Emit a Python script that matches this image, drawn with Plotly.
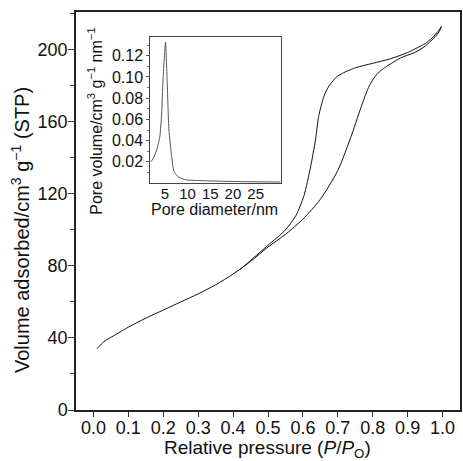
import plotly.graph_objects as go

# Main isotherm: adsorption branch (relative pressure, volume adsorbed)
ads_p = [0.01, 0.03, 0.056, 0.10, 0.15, 0.20, 0.25, 0.30, 0.35, 0.40, 0.45, 0.50,
         0.55, 0.60, 0.65, 0.70, 0.74, 0.77, 0.79, 0.81, 0.83, 0.88, 0.92, 0.95, 0.975, 0.99, 0.997]
ads_v = [34, 38, 41, 46, 51, 55.5, 60, 64.5, 69.5, 75.5, 82.5, 90.5,
         97.5, 106, 117, 133, 153, 170, 180, 186, 189.5, 195.5, 198.5, 202, 206.5, 210, 213]

# Desorption branch
des_p = [0.997, 0.99, 0.97, 0.95, 0.90, 0.85, 0.80, 0.75, 0.70, 0.675, 0.66, 0.645, 0.636,
         0.622, 0.603, 0.58, 0.55, 0.50, 0.45, 0.42]
des_v = [213, 211, 206.5, 203.5, 198.5, 195, 192.5, 190, 185.5, 180, 174, 163, 150,
         135, 119, 108, 100, 91.5, 83, 78]

# Inset: pore size distribution
psd_d = [1.9, 2.4, 3.2, 3.9, 4.3, 4.6, 5.15, 5.5, 5.9, 6.5, 7.0, 7.9, 9.7, 12, 15, 20, 25, 30.5]
psd_v = [0.020, 0.023, 0.031, 0.044, 0.066, 0.097, 0.133, 0.097, 0.050, 0.025, 0.011,
         0.006, 0.003, 0.0025, 0.002, 0.0015, 0.0012, 0.001]

main_xticks = [0.0, 0.1, 0.2, 0.3, 0.4, 0.5, 0.6, 0.7, 0.8, 0.9, 1.0]
main_yticks = [0, 40, 80, 120, 160, 200]
inset_xticks = [5, 10, 15, 20, 25]
inset_yticks = [0.02, 0.04, 0.06, 0.08, 0.10, 0.12]

FONT = "Liberation Sans, Arial, Helvetica, sans-serif"
W, H = 463, 461
L, R, T, B = 76, 462, 12, 410.5

def px(x):
    return (x - L) / (R - L)

def py(y):
    return (B - y) / (B - T)

fig = go.Figure()
fig.add_trace(go.Scatter(x=ads_p, y=ads_v, mode="lines", line=dict(color="#111", width=1, shape="spline", smoothing=0.7),
                         showlegend=False, hoverinfo="skip"))
fig.add_trace(go.Scatter(x=des_p, y=des_v, mode="lines", line=dict(color="#111", width=1, shape="spline", smoothing=0.7),
                         showlegend=False, hoverinfo="skip"))
fig.add_trace(go.Scatter(x=psd_d, y=psd_v, mode="lines", xaxis="x2", yaxis="y2",
                         line=dict(color="#555", width=1, shape="spline", smoothing=0.5),
                         showlegend=False, hoverinfo="skip"))

fig.update_layout(
    width=W, height=H,
    margin=dict(l=L, r=W - R, t=T, b=H - B),
    paper_bgcolor="white", plot_bgcolor="white",
    font=dict(family=FONT, color="#111"),
    xaxis=dict(range=[-0.05, 1.05], tickvals=main_xticks, ticktext=[f"{v:.1f}" for v in main_xticks],
               ticks="outside", ticklen=5, tickwidth=1, tickcolor="#333", ticklabelstandoff=-4,
               showline=True, linecolor="#222", linewidth=1.5, mirror=True,
               showgrid=False, zeroline=False, tickfont=dict(size=18)),
    yaxis=dict(range=[0, 221], tickvals=main_yticks,
               ticks="outside", ticklen=6, tickwidth=1, tickcolor="#333", ticklabelstandoff=-3,
               minor=dict(tickvals=[20, 60, 100, 140, 180, 220], ticks="outside", ticklen=4, tickcolor="#333"),
               showline=True, linecolor="#222", linewidth=1.5, mirror=True,
               showgrid=False, zeroline=False, tickfont=dict(size=18)),
    xaxis2=dict(domain=[px(150.7), px(281.7)], anchor="y2", range=[1.8, 30.5],
                tickvals=inset_xticks, ticks="", ticklabelstandoff=-3,
                showline=True, linecolor="#444", linewidth=1, mirror=True,
                showgrid=False, zeroline=False, tickfont=dict(size=15)),
    yaxis2=dict(domain=[py(183.3), py(36.7)], anchor="x2", range=[0, 0.138],
                tickvals=inset_yticks, ticktext=[f"{v:.2f}" for v in inset_yticks],
                ticks="outside", ticklen=3, tickwidth=1, tickcolor="#555",
                minor=dict(tickvals=[0.01, 0.03, 0.05, 0.07, 0.09, 0.11, 0.13], ticks="outside", ticklen=2, tickcolor="#777"),
                showline=True, linecolor="#444", linewidth=1, mirror=True,
                showgrid=False, zeroline=False, tickfont=dict(size=16)),
    annotations=[
        dict(text="Relative pressure (<i>P</i>/<i>P</i><sub>O</sub>)", xref="paper", yref="paper",
             x=px(268), y=py(450), xanchor="center", yanchor="middle", showarrow=False, font=dict(size=19)),
        dict(text="Volume adsorbed/cm<sup>3</sup> g<sup>\u22121</sup> (STP)", xref="paper", yref="paper",
             x=px(20), y=py(230), xanchor="center", yanchor="middle", textangle=-90, showarrow=False, font=dict(size=20)),
        dict(text="Pore volume/cm<sup>3</sup> g<sup>\u22121</sup> nm<sup>\u22121</sup>", xref="paper", yref="paper",
             x=px(95), y=py(121), xanchor="center", yanchor="middle", textangle=-90, showarrow=False, font=dict(size=16)),
        dict(text="Pore diameter/nm", xref="paper", yref="paper",
             x=px(215), y=py(209.5), xanchor="center", yanchor="middle", showarrow=False, font=dict(size=16)),
    ],
)

fig.write_html("out.html", config={"displayModeBar": False},
               post_script="document.body.style.margin='0';document.body.style.overflow='hidden';")
